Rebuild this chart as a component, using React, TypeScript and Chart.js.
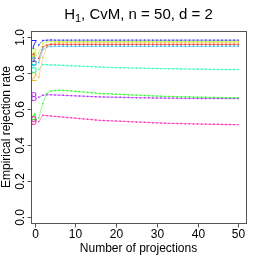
import React, { useEffect, useRef } from "react";
import { Chart, registerables } from "chart.js";

Chart.register(...registerables);

const projections = [
  1, 2, 3, 4, 5, 6, 7, 8, 9, 10, 11, 12, 13, 14, 15, 16, 17, 18, 19, 20,
  21, 22, 23, 24, 25, 26, 27, 28, 29, 30, 31, 32, 33, 34, 35, 36, 37, 38, 39, 40,
  41, 42, 43, 44, 45, 46, 47, 48, 49, 50,
];

const s1 = [
  0.880, 0.945, 0.955, 0.958, 0.958, 0.959, 0.958, 0.958, 0.958, 0.958,
  0.958, 0.958, 0.958, 0.958, 0.958, 0.958, 0.958, 0.958, 0.958, 0.958,
  0.958, 0.958, 0.958, 0.958, 0.958, 0.958, 0.958, 0.958, 0.958, 0.958,
  0.958, 0.958, 0.958, 0.958, 0.958, 0.958, 0.958, 0.958, 0.958, 0.958,
  0.958, 0.958, 0.958, 0.958, 0.958, 0.958, 0.958, 0.958, 0.958, 0.958,
];
const s2 = [
  0.775, 0.885, 0.945, 0.962, 0.966, 0.967, 0.967, 0.968, 0.967, 0.967,
  0.967, 0.967, 0.967, 0.967, 0.967, 0.967, 0.967, 0.967, 0.967, 0.967,
  0.967, 0.967, 0.967, 0.967, 0.967, 0.967, 0.967, 0.967, 0.967, 0.967,
  0.967, 0.967, 0.967, 0.967, 0.967, 0.967, 0.967, 0.967, 0.967, 0.967,
  0.967, 0.967, 0.967, 0.967, 0.967, 0.967, 0.967, 0.967, 0.967, 0.967,
];
const s3 = [
  0.910, 0.962, 0.972, 0.974, 0.975, 0.975, 0.975, 0.975, 0.975, 0.975,
  0.975, 0.975, 0.975, 0.975, 0.975, 0.975, 0.975, 0.975, 0.975, 0.975,
  0.975, 0.975, 0.975, 0.975, 0.975, 0.975, 0.975, 0.975, 0.975, 0.975,
  0.975, 0.975, 0.975, 0.975, 0.975, 0.975, 0.975, 0.975, 0.975, 0.975,
  0.975, 0.975, 0.975, 0.975, 0.975, 0.975, 0.975, 0.975, 0.975, 0.975,
];
const s4 = [
  0.550, 0.630, 0.685, 0.700, 0.703, 0.704, 0.703, 0.702, 0.700, 0.698,
  0.696, 0.694, 0.692, 0.690, 0.688, 0.686, 0.685, 0.684, 0.683, 0.682,
  0.681, 0.680, 0.679, 0.678, 0.677, 0.676, 0.675, 0.674, 0.673, 0.672,
  0.671, 0.670, 0.670, 0.669, 0.668, 0.668, 0.667, 0.667, 0.666, 0.666,
  0.665, 0.665, 0.664, 0.664, 0.663, 0.663, 0.663, 0.662, 0.662, 0.662,
];
const s5 = [
  0.820, 0.847, 0.846, 0.845, 0.844, 0.843, 0.842, 0.841, 0.840, 0.839,
  0.838, 0.837, 0.836, 0.835, 0.834, 0.833, 0.832, 0.831, 0.830, 0.830,
  0.829, 0.829, 0.828, 0.828, 0.827, 0.827, 0.826, 0.826, 0.825, 0.825,
  0.824, 0.824, 0.823, 0.823, 0.823, 0.822, 0.822, 0.822, 0.821, 0.821,
  0.821, 0.820, 0.820, 0.820, 0.820, 0.819, 0.819, 0.819, 0.819, 0.819,
];
const s6 = [
  0.858, 0.930, 0.944, 0.947, 0.948, 0.948, 0.948, 0.948, 0.948, 0.948,
  0.948, 0.948, 0.948, 0.948, 0.948, 0.948, 0.948, 0.948, 0.948, 0.948,
  0.948, 0.948, 0.948, 0.948, 0.948, 0.948, 0.948, 0.948, 0.948, 0.948,
  0.948, 0.948, 0.948, 0.948, 0.948, 0.948, 0.948, 0.948, 0.948, 0.948,
  0.948, 0.948, 0.948, 0.948, 0.948, 0.948, 0.948, 0.948, 0.948, 0.948,
];
const s7 = [
  0.955, 0.980, 0.982, 0.983, 0.982, 0.982, 0.982, 0.982, 0.982, 0.982,
  0.982, 0.982, 0.982, 0.982, 0.982, 0.982, 0.982, 0.982, 0.982, 0.982,
  0.982, 0.982, 0.982, 0.982, 0.982, 0.982, 0.982, 0.982, 0.982, 0.982,
  0.982, 0.982, 0.982, 0.982, 0.982, 0.982, 0.982, 0.982, 0.982, 0.982,
  0.982, 0.982, 0.982, 0.982, 0.982, 0.982, 0.982, 0.982, 0.982, 0.982,
];
const s8 = [
  0.665, 0.676, 0.679, 0.679, 0.678, 0.677, 0.676, 0.675, 0.674, 0.673,
  0.672, 0.671, 0.670, 0.669, 0.668, 0.667, 0.667, 0.666, 0.666, 0.665,
  0.665, 0.664, 0.664, 0.663, 0.663, 0.662, 0.662, 0.662, 0.661, 0.661,
  0.661, 0.660, 0.660, 0.660, 0.660, 0.659, 0.659, 0.659, 0.659, 0.659,
  0.658, 0.658, 0.658, 0.658, 0.658, 0.658, 0.658, 0.658, 0.658, 0.658,
];
const s9 = [
  0.530, 0.565, 0.563, 0.561, 0.559, 0.557, 0.555, 0.553, 0.551, 0.549,
  0.547, 0.545, 0.543, 0.541, 0.539, 0.537, 0.536, 0.535, 0.534, 0.533,
  0.532, 0.531, 0.530, 0.529, 0.528, 0.527, 0.526, 0.525, 0.524, 0.523,
  0.522, 0.521, 0.520, 0.520, 0.519, 0.519, 0.518, 0.518, 0.517, 0.517,
  0.516, 0.516, 0.515, 0.515, 0.515, 0.514, 0.514, 0.514, 0.513, 0.513,
];

const seriesNames = ["1", "2", "3", "4", "5", "6", "7", "8", "9"];
const seriesValues = [s1, s2, s3, s4, s5, s6, s7, s8, s9];
const seriesColors = [
  [255, 0, 0],
  [255, 170, 0],
  [170, 255, 0],
  [0, 255, 0],
  [0, 255, 170],
  [0, 170, 255],
  [0, 0, 255],
  [170, 0, 255],
  [255, 0, 170],
];

const xTicks = [0, 10, 20, 30, 40, 50];
const yTicks = [0, 0.2, 0.4, 0.6, 0.8, 1.0];
const labelX = -0.2;

const FONT = "'Liberation Sans', Arial, Helvetica, sans-serif";

const rgba = (c: number[], a: number) => `rgba(${c[0]},${c[1]},${c[2]},${a})`;

const decorPlugin = {
  id: "decor",
  afterDatasetsDraw(chart: any) {
    const ctx = chart.ctx;
    const xs = chart.scales.x;
    const ys = chart.scales.y;
    const area = chart.chartArea;
    ctx.save();
    // series labels at x = 0
    ctx.font = `12px ${FONT}`;
    ctx.textAlign = "center";
    ctx.textBaseline = "middle";
    seriesValues.forEach((vals, i) => {
      ctx.fillStyle = rgba(seriesColors[i], 0.85);
      ctx.fillText(seriesNames[i], xs.getPixelForValue(labelX), ys.getPixelForValue(vals[0]) + 0.5);
    });
    // box
    ctx.strokeStyle = "#555";
    ctx.lineWidth = 1;
    ctx.strokeRect(
      Math.round(area.left) + 0.5,
      Math.round(area.top) + 0.5,
      Math.round(area.right - area.left),
      Math.round(area.bottom - area.top)
    );
    // x ticks
    ctx.fillStyle = "#000";
    ctx.strokeStyle = "#555";
    ctx.font = `12px ${FONT}`;
    ctx.textAlign = "center";
    ctx.textBaseline = "middle";
    const by = Math.round(area.bottom) + 0.5;
    xTicks.forEach((t) => {
      const px = Math.round(xs.getPixelForValue(t)) + 0.5;
      ctx.beginPath();
      ctx.moveTo(px, by);
      ctx.lineTo(px, by + 4);
      ctx.stroke();
      ctx.fillText(String(t), px, by + 11);
    });
    // y ticks
    const lx = Math.round(area.left) + 0.5;
    yTicks.forEach((t) => {
      const py = Math.round(ys.getPixelForValue(t)) + 0.5;
      ctx.beginPath();
      ctx.moveTo(lx, py);
      ctx.lineTo(lx - 4, py);
      ctx.stroke();
      ctx.save();
      ctx.translate(lx - 11, py);
      ctx.rotate(-Math.PI / 2);
      ctx.fillText(t.toFixed(1), 0, 0);
      ctx.restore();
    });
    // axis titles
    const cx = (area.left + area.right) / 2;
    const cy = (area.top + area.bottom) / 2;
    ctx.fillText("Number of projections", cx, 248.5);
    ctx.save();
    ctx.translate(7, cy);
    ctx.rotate(-Math.PI / 2);
    ctx.fillText("Empirical rejection rate", 0, 0);
    ctx.restore();
    // main title with subscript
    const big = `15px ${FONT}`;
    const small = `11px ${FONT}`;
    const rest = ", CvM, n = 50, d = 2";
    ctx.font = big;
    const wH = ctx.measureText("H").width;
    const wRest = ctx.measureText(rest).width;
    ctx.font = small;
    const wSub = ctx.measureText("1").width;
    const total = wH + wSub + wRest;
    let x0 = cx - total / 2;
    const base = 18.5;
    ctx.textAlign = "left";
    ctx.textBaseline = "alphabetic";
    ctx.font = big;
    ctx.fillText("H", x0, base);
    x0 += wH;
    ctx.font = small;
    ctx.fillText("1", x0, base + 3);
    x0 += wSub;
    ctx.font = big;
    ctx.fillText(rest, x0, base);
    ctx.restore();
  },
};

export default function App() {
  const ref = useRef<HTMLCanvasElement | null>(null);
  useEffect(() => {
    if (!ref.current) return;
    const datasets = seriesValues.map((vals, i) => ({
      label: seriesNames[i],
      data: vals.map((v, j) => ({ x: projections[j], y: v })),
      borderColor: rgba(seriesColors[i], 0.45),
      backgroundColor: rgba(seriesColors[i], 0.8),
      pointBackgroundColor: rgba(seriesColors[i], 0.8),
      pointBorderWidth: 0,
      borderWidth: 1,
      pointRadius: 1,
      pointStyle: "rect" as const,
      tension: 0,
    }));
    const chart = new Chart(ref.current, {
      type: "line",
      data: { datasets },
      options: {
        animation: false,
        responsive: false,
        devicePixelRatio: 1,
        layout: { padding: { left: 31, right: 16, top: 31, bottom: 39 } },
        plugins: { legend: { display: false }, tooltip: { enabled: false }, title: { display: false } },
        scales: {
          x: { type: "linear", min: -0.9, max: 51.9, display: false },
          y: { type: "linear", min: -0.033, max: 1.033, display: false },
        },
      },
      plugins: [decorPlugin],
    });
    return () => chart.destroy();
  }, []);
  return (
    <div style={{ position: "fixed", left: 0, top: 0, width: 262, height: 262, background: "#fff" }}>
      <canvas ref={ref} width={262} height={262} style={{ width: 262, height: 262 }} />
    </div>
  );
}
